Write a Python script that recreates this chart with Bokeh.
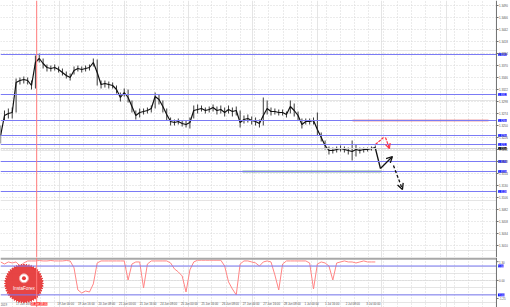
import numpy as np
from bokeh.plotting import figure
from bokeh.layouts import column
from bokeh.models import (Range1d, Span, FixedTicker, Grid, Label, Arrow, OpenHead,
                          BoxAnnotation)
from bokeh.embed import file_html
from bokeh.resources import INLINE

# ---------------- data (hours of trading time since 17 Jun 00:00) ----------------
hours = list(range(4, 296, 3))

close = [1.3230, 1.3270, 1.3274, 1.3276, 1.3336, 1.3340, 1.3342, 1.3340, 1.3330, 1.3376,
         1.3384, 1.3374, 1.3366, 1.3364, 1.3366, 1.3362, 1.3356, 1.3350, 1.3346, 1.3360,
         1.3364, 1.3362, 1.3364, 1.3366, 1.3376, 1.3356, 1.3332, 1.3334, 1.3332, 1.3330,
         1.3322, 1.3306, 1.3316, 1.3306, 1.3288, 1.3270, 1.3276, 1.3278, 1.3280, 1.3284,
         1.3308, 1.3302, 1.3288, 1.3272, 1.3258, 1.3256, 1.3258, 1.3254, 1.3252, 1.3256,
         1.3280, 1.3282, 1.3284, 1.3280, 1.3282, 1.3286, 1.3280, 1.3282, 1.3276, 1.3282,
         1.3278, 1.3280, 1.3256, 1.3262, 1.3264, 1.3260, 1.3258, 1.3254, 1.3270, 1.3284,
         1.3278, 1.3278, 1.3276, 1.3276, 1.3272, 1.3288, 1.3280, 1.3270, 1.3252, 1.3258,
         1.3258, 1.3260, 1.3242, 1.3226, 1.3210, 1.3200, 1.3200, 1.3202, 1.3204, 1.3202,
         1.3200, 1.3198, 1.3202, 1.3200, 1.3202, 1.3202, 1.3204, 1.3206]

high = [1.3250, 1.3280, 1.3284, 1.3286, 1.3344, 1.3346, 1.3348, 1.3346, 1.3340, 1.3390,
        1.3394, 1.3384, 1.3372, 1.3370, 1.3372, 1.3368, 1.3364, 1.3358, 1.3354, 1.3368,
        1.3370, 1.3368, 1.3370, 1.3372, 1.3384, 1.3382, 1.3340, 1.3340, 1.3338, 1.3336,
        1.3330, 1.3316, 1.3324, 1.3322, 1.3300, 1.3280, 1.3284, 1.3284, 1.3286, 1.3290,
        1.3316, 1.3312, 1.3300, 1.3284, 1.3266, 1.3262, 1.3264, 1.3260, 1.3260, 1.3266,
        1.3290, 1.3292, 1.3290, 1.3286, 1.3288, 1.3292, 1.3288, 1.3290, 1.3286, 1.3290,
        1.3286, 1.3288, 1.3280, 1.3270, 1.3272, 1.3268, 1.3266, 1.3262, 1.3306, 1.3300,
        1.3286, 1.3284, 1.3282, 1.3282, 1.3278, 1.3300, 1.3294, 1.3278, 1.3264, 1.3264,
        1.3264, 1.3266, 1.3276, 1.3236, 1.3220, 1.3208, 1.3206, 1.3208, 1.3210, 1.3208,
        1.3206, 1.3220, 1.3212, 1.3206, 1.3206, 1.3206, 1.3208, 1.3210]

low = [1.3214, 1.3260, 1.3264, 1.3264, 1.3276, 1.3332, 1.3334, 1.3332, 1.3322, 1.3324,
       1.3376, 1.3364, 1.3358, 1.3358, 1.3360, 1.3356, 1.3350, 1.3344, 1.3340, 1.3352,
       1.3358, 1.3356, 1.3358, 1.3360, 1.3368, 1.3330, 1.3324, 1.3326, 1.3324, 1.3324,
       1.3314, 1.3298, 1.3308, 1.3296, 1.3276, 1.3262, 1.3266, 1.3272, 1.3274, 1.3276,
       1.3284, 1.3292, 1.3276, 1.3260, 1.3250, 1.3250, 1.3252, 1.3248, 1.3246, 1.3244,
       1.3264, 1.3274, 1.3278, 1.3274, 1.3276, 1.3278, 1.3272, 1.3274, 1.3268, 1.3274,
       1.3268, 1.3270, 1.3246, 1.3254, 1.3256, 1.3252, 1.3250, 1.3246, 1.3250, 1.3272,
       1.3270, 1.3272, 1.3270, 1.3270, 1.3266, 1.3274, 1.3268, 1.3260, 1.3244, 1.3252,
       1.3252, 1.3252, 1.3230, 1.3218, 1.3202, 1.3192, 1.3194, 1.3196, 1.3198, 1.3196,
       1.3192, 1.3180, 1.3188, 1.3194, 1.3196, 1.3198, 1.3200, 1.3202]

osc = [1.28, 1.14, 1.28, 1.21, 1.28, 1.00, 1.21, 1.35, 1.35, 1.35,
       1.38, 1.35, 1.35, 1.38, 1.35, 1.35, 1.35, 1.38, 1.35, 0.87,
       -0.66, -0.87, -0.73, -0.80, -0.24, 1.21, 1.35, 1.35, 1.35, 1.35,
       1.35, 1.35, 1.35, 0.03, 1.14, 1.28, 1.28, -0.52, 1.14, 1.35,
       1.35, 1.35, 1.35, 1.35, 1.21, 0.80, 0.59, 0.31, -0.80, 0.73,
       1.28, 1.40, 1.40, 1.40, 1.40, 1.40, 1.40, 1.40, 1.00, -0.10,
       -0.59, -1.00, 1.14, 1.35, 1.35, 1.28, 1.21, 1.00, 1.28, 1.35,
       1.28, 0.38, -0.66, 1.14, 1.35, 1.35, 1.35, 1.35, 1.35, 1.35,
       1.21, -0.59, 1.14, 1.28, 1.21, 1.00, 0.03, 1.21, 1.28, 1.35,
       1.28, 1.28, 1.21, 1.28, 1.35, 1.28, 1.28, 1.28]

price_ticks = [1.3490, 1.3466, 1.3442, 1.3418, 1.3394, 1.3370, 1.3346, 1.3322, 1.3298,
               1.3274, 1.3250, 1.3226, 1.3202, 1.3178, 1.3154, 1.3130, 1.3106, 1.3082,
               1.3058, 1.3034, 1.3010]
blue_levels = [1.3392, 1.3312, 1.3260, 1.3230, 1.3212, 1.3178, 1.3158, 1.3118]
current_price = 1.3204
red_level, red_from, red_to = 1.3260, 277.3, 382.9
green_level, green_from, green_to = 1.3158, 191.8, 299.8
marker_time = 32
marker_label = "18 Jun 08:00"

time_ticks = [4, 16, 48, 64, 80, 96, 112, 128, 144, 160, 176, 192, 208, 224, 240, 256, 272, 288]
time_labels = ["2019", "17 Jun 16:00", "19 Jun 00:00", "19 Jun 16:00", "20 Jun 08:00",
               "21 Jun 00:00", "21 Jun 16:00", "24 Jun 08:00", "25 Jun 00:00", "25 Jun 16:00",
               "26 Jun 08:00", "27 Jun 00:00", "27 Jun 16:00", "28 Jun 08:00", "1 Jul 00:00",
               "1 Jul 16:00", "2 Jul 08:00", "3 Jul 00:00"]

osc_levels = [1.0, -1.0]
osc_ticks = [1.30, 0.0, -1.25]

# forecast arrows (time, price)
red_path = ([295.1, 301.4], [1.3212, 1.3226])
red_arrow = (302.9, 1.3226, 306.0, 1.3204)
black_path = ([295.1, 299.0], [1.3204, 1.3164])
black_arrow1 = (299.0, 1.3164, 308.3, 1.3188)
black_arrow2 = (309.1, 1.3170, 316.1, 1.3122)

# ---------------- styling ----------------
BLUE = "#7b7bf5"
GRID = "#d6d6d6"
AX = "#707070"
FONT = "2.9px"
AXIS_X = 389.1          # time position of the price-scale line
x_range = Range1d(3.9, 400.0)
vgrid = list(np.arange(12.97, AXIS_X, 11.08))


def price_scale(fig, ticks, texts, boxes):
    fig.add_layout(BoxAnnotation(left=AXIS_X, fill_color="white", fill_alpha=1, line_alpha=0))
    fig.add_layout(Span(location=AXIS_X, dimension="height", line_color=AX, line_width=1))
    fig.segment(x0=[AXIS_X] * len(ticks), y0=ticks, x1=[AXIS_X + 1.6] * len(ticks), y1=ticks,
                line_color=AX, line_width=1, level="overlay")
    fig.text([AXIS_X] * len(ticks), ticks, text=texts, x_offset=2.5, text_font_size=FONT,
             text_color="#555555", text_align="left", text_baseline="middle", level="overlay")
    for lv, txt, col in boxes:
        fig.add_layout(Label(x=AXIS_X, y=lv, text=txt, x_offset=1.5, text_baseline="middle",
                             text_font_size=FONT, text_color="white", background_fill_color=col))


# ---------------- main price panel ----------------
p = figure(frame_width=510, frame_height=257, x_range=x_range,
           y_range=Range1d(1.2986, 1.3500), output_backend="svg", toolbar_location=None,
           x_axis_location=None, y_axis_location=None,
           min_border_left=0, min_border_right=0, min_border_top=0, min_border_bottom=0)
p.outline_line_color = None
p.background_fill_color = "white"
p.add_layout(Grid(dimension=1, ticker=FixedTicker(ticks=price_ticks), grid_line_color=GRID,
                  grid_line_dash="1 2"))
p.add_layout(Grid(dimension=0, ticker=FixedTicker(ticks=vgrid), grid_line_color=GRID,
                  grid_line_dash="1 2"))

p.add_layout(Span(location=current_price, dimension="width", line_color="#d4d4d4", line_width=1))
for lv in blue_levels:
    p.add_layout(Span(location=lv, dimension="width", line_color=BLUE, line_width=1))
p.segment(x0=[red_from], y0=[red_level], x1=[red_to], y1=[red_level], line_color="#e04848", line_width=1.5)
p.segment(x0=[green_from], y0=[green_level], x1=[green_to], y1=[green_level], line_color="#2a7d46", line_width=1.5)
p.add_layout(Span(location=marker_time, dimension="height", line_color="#ff7a7a", line_width=1))

p.segment(x0=hours, y0=low, x1=hours, y1=high, line_color="#3c3c3c", line_width=1)
p.line(hours, close, line_color="#111111", line_width=1.2)

p.line(red_path[0], red_path[1], line_color="#ff3344", line_width=1.2, line_dash="3 1")
p.add_layout(Arrow(end=OpenHead(size=5, line_color="#ff3344", line_width=1.2),
                   x_start=red_arrow[0], y_start=red_arrow[1], x_end=red_arrow[2], y_end=red_arrow[3],
                   line_color="#ff3344", line_width=1.2, line_dash="3 1"))
p.line(black_path[0], black_path[1], line_color="#111111", line_width=1.3)
p.add_layout(Arrow(end=OpenHead(size=6, line_color="#111111", line_width=1.3),
                   x_start=black_arrow1[0], y_start=black_arrow1[1], x_end=black_arrow1[2], y_end=black_arrow1[3],
                   line_color="#111111", line_width=1.3))
p.add_layout(Arrow(end=OpenHead(size=6, line_color="#111111", line_width=1.3),
                   x_start=black_arrow2[0], y_start=black_arrow2[1], x_end=black_arrow2[2], y_end=black_arrow2[3],
                   line_color="#111111", line_width=1.3, line_dash="3 2"))

price_scale(p, price_ticks, [f"{t:.4f}" for t in price_ticks],
            [(lv, f"{lv:.4f}", "#1a1aff") for lv in blue_levels] +
            [(current_price, f"{current_price:.4f}", "#000000")])

# ---------------- oscillator panel ----------------
s = figure(frame_width=510, frame_height=50, x_range=x_range, y_range=Range1d(-1.873, 1.589),
           output_backend="svg", toolbar_location=None, x_axis_location=None,
           y_axis_location=None, min_border_left=0, min_border_right=0,
           min_border_top=0, min_border_bottom=0)
s.outline_line_color = None
s.add_layout(Grid(dimension=1, ticker=FixedTicker(ticks=[0.0]), grid_line_color=GRID,
                  grid_line_dash="1 2"))
s.add_layout(Grid(dimension=0, ticker=FixedTicker(ticks=vgrid), grid_line_color=GRID,
                  grid_line_dash="1 2", bounds=(-1.25, 1.43)))
s.add_layout(BoxAnnotation(bottom=1.43, right=AXIS_X, fill_color="#a8a8a8", fill_alpha=1, line_alpha=0))
for lv in osc_levels:
    s.add_layout(Span(location=lv, dimension="width", line_color=BLUE, line_width=1))
s.line(hours, osc, line_color="#ff8585", line_width=1)

s.text(time_ticks, [-1.62] * len(time_ticks), text=time_labels, text_font_size=FONT,
       text_color="#555555", text_align="left", text_baseline="middle")

# InstaForex badge
ang = np.linspace(0, 2 * np.pi, 97)
rad = np.where(np.arange(97) % 2 == 0, 19.5, 17.2)
cx, cy = 22.1, -0.21
s.patch(cx + rad * np.cos(ang) / 1.2875, cy + rad * np.sin(ang) / 14.44,
        fill_color="#e63a3a", line_color="#e63a3a", fill_alpha=0.95)
s.scatter([cx], [cy + 0.36], size=9, fill_color="white", line_color="#f2a0a0", line_width=1)
s.scatter([cx], [cy + 0.36], size=4, fill_color="#e63a3a", line_color=None)
s.text([cx], [cy - 0.36], text=["InstaForex"], text_color="white", text_font_size="4.6px",
       text_align="center", text_baseline="middle")

s.add_layout(Span(location=marker_time, dimension="height", line_color="#ff7a7a", line_width=1))
s.add_layout(Label(x=marker_time, y=-1.62, x_offset=-6, text=marker_label, text_font_size=FONT,
                   text_color="white", text_baseline="middle", background_fill_color="#ff2b2b"))

price_scale(s, osc_ticks, [f"{t:.2f}" for t in osc_ticks],
            [(lv, f"{lv:.2f}", "#1a1aff") for lv in osc_levels])

layout = column(p, s, spacing=0)
open("out.html", "w").write(file_html(layout, INLINE))
